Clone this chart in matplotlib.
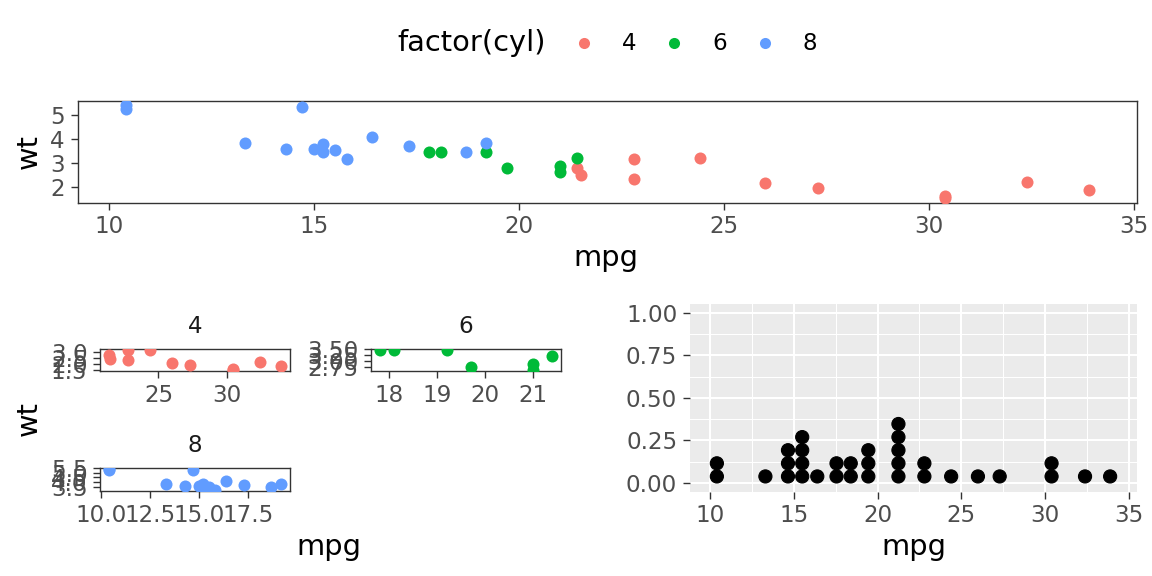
import matplotlib
matplotlib.use("Agg")
import matplotlib.pyplot as plt
from matplotlib.patches import Ellipse

# mtcars data
mpg = [21.0, 21.0, 22.8, 21.4, 18.7, 18.1, 14.3, 24.4, 22.8, 19.2, 17.8, 16.4, 17.3, 15.2,
       10.4, 10.4, 14.7, 32.4, 30.4, 33.9, 21.5, 15.5, 15.2, 13.3, 19.2, 27.3, 26.0, 30.4,
       15.8, 19.7, 15.0, 21.4]
wt = [2.620, 2.875, 2.320, 3.215, 3.440, 3.460, 3.570, 3.190, 3.150, 3.440, 3.440, 4.070,
      3.730, 3.780, 5.250, 5.424, 5.345, 2.200, 1.615, 1.835, 2.465, 3.520, 3.435, 3.840,
      3.845, 1.935, 2.140, 1.513, 3.170, 2.770, 3.570, 2.780]
cyl = [6, 6, 4, 6, 8, 6, 8, 4, 4, 6, 6, 8, 8, 8, 8, 8, 8, 4, 4, 4, 4, 8, 8, 8, 8, 4, 4, 4,
       8, 6, 8, 4]
cyl_levels = [4, 6, 8]
cyl_colors = {4: "#F8766D", 6: "#00BA38", 8: "#619CFF"}

W, H = 1152, 576
fig = plt.figure(figsize=(W / 100, H / 100), dpi=100)


def rect(l, r, t, b):
    return [l / W, 1 - b / H, (r - l) / W, (b - t) / H]


def fx(x):
    return x / W


def fy(y):
    return 1 - y / H


TICK = 16.6
TITLE = 20.8
PT = 75


def style_ticks(ax):
    ax.tick_params(direction="out", length=5.2, width=1.0, color="#333333",
                   labelcolor="#4D4D4D", labelsize=TICK, pad=4.0)


def bw_panel(ax):
    ax.set_facecolor("white")
    for s in ax.spines.values():
        s.set_color("#333333")
        s.set_linewidth(1.0)
    style_ticks(ax)


def expand(lo, hi, f=0.05):
    d = (hi - lo) * f
    return lo - d, hi + d


# ---------------- top scatter ----------------
ax = fig.add_axes(rect(77.7, 1137, 100.7, 202.7))
bw_panel(ax)
for c in cyl_levels:
    xs = [m for m, k in zip(mpg, cyl) if k == c]
    ys = [w for w, k in zip(wt, cyl) if k == c]
    ax.scatter(xs, ys, s=PT, color=cyl_colors[c], linewidths=0, zorder=3)
ax.set_xlim(*expand(min(mpg), max(mpg)))
ax.set_ylim(*expand(min(wt), max(wt)))
ax.set_xticks([10, 15, 20, 25, 30, 35])
ax.set_yticks([2, 3, 4, 5])
fig.text(fx(606), fy(258), "mpg", ha="center", va="center", fontsize=TITLE)
fig.text(fx(28.7), fy(151.7), "wt", ha="center", va="center", fontsize=TITLE, rotation=90)

# legend
fig.text(fx(397), fy(43.3), "factor(cyl)", ha="left", va="center", fontsize=TITLE)
leg_ax = fig.add_axes([0, 0, 1, 1])
leg_ax.set_xlim(0, W)
leg_ax.set_ylim(H, 0)
leg_ax.axis("off")
key_x = [584.3, 674.3, 765.0]
lab_x = [629.3, 720.0, 810.0]
for c, kx, lx in zip(cyl_levels, key_x, lab_x):
    leg_ax.scatter([kx], [43.3], s=PT * 0.85, color=cyl_colors[c], linewidths=0)
    leg_ax.text(lx, 43.3, str(c), ha="center", va="center", fontsize=TICK)

# ---------------- facets ----------------
facet_rects = {
    4: (100.3, 289.7, 348.7, 371.3),
    6: (371.2, 561.0, 348.7, 371.3),
    8: (100.3, 289.7, 467.7, 491.0),
}
facet_xticks = {4: [25, 30], 6: [18, 19, 20, 21], 8: [10.0, 12.5, 15.0, 17.5]}
facet_xlabels = {4: ["25", "30"], 6: ["18", "19", "20", "21"],
                 8: ["10.0", "12.5", "15.0", "17.5"]}
facet_yticks = {4: [1.5, 2.0, 2.5, 3.0], 6: [2.75, 3.00, 3.25, 3.50],
                8: [3.5, 4.0, 4.5, 5.0, 5.5]}
facet_ylabels = {4: ["1.5", "2.0", "2.5", "3.0"], 6: ["2.75", "3.00", "3.25", "3.50"],
                 8: ["3.5", "4.0", "4.5", "5.0", "5.5"]}
for c in cyl_levels:
    l, r, t, b = facet_rects[c]
    fa = fig.add_axes(rect(l, r, t, b))
    bw_panel(fa)
    xs = [m for m, k in zip(mpg, cyl) if k == c]
    ys = [w for w, k in zip(wt, cyl) if k == c]
    fa.scatter(xs, ys, s=PT, color=cyl_colors[c], linewidths=0, zorder=3, clip_on=True)
    fa.set_xlim(*expand(min(xs), max(xs)))
    fa.set_ylim(*expand(min(ys), max(ys)))
    fa.set_xticks(facet_xticks[c])
    fa.set_xticklabels(facet_xlabels[c])
    fa.set_yticks(facet_yticks[c])
    fa.set_yticklabels(facet_ylabels[c])
    fig.text(fx((l + r) / 2), fy(t - 22), str(c), ha="center", va="center",
             fontsize=TICK, color="#1A1A1A")
fig.text(fx(329), fy(546.7), "mpg", ha="center", va="center", fontsize=TITLE)
fig.text(fx(28.7), fy(418), "wt", ha="center", va="center", fontsize=TITLE, rotation=90)

# ---------------- dotplot ----------------
dl, dr, dt, db = 690.0, 1137.0, 304.3, 491.5
da = fig.add_axes(rect(dl, dr, dt, db))
da.set_facecolor("#EBEBEB")
for s in da.spines.values():
    s.set_visible(False)
style_ticks(da)
da.set_axisbelow(True)
binwidth = (max(mpg) - min(mpg)) / 30
vals = sorted(mpg)
centers, counts = [], []
i = 0
while i < len(vals):
    start = vals[i]
    j = i
    while j < len(vals) and vals[j] < start + binwidth:
        j += 1
    grp = vals[i:j]
    centers.append((grp[0] + grp[-1]) / 2)
    counts.append(len(grp))
    i = j
xlo, xhi = expand(min(centers) - binwidth / 2, max(centers) + binwidth / 2)
ylo, yhi = -0.05, 1.05
da.set_xlim(xlo, xhi)
da.set_ylim(ylo, yhi)
pxx = (dr - dl) / (xhi - xlo)
pxy = (db - dt) / (yhi - ylo)
dot_h = binwidth * pxx / pxy
for cx, n in zip(centers, counts):
    for k in range(n):
        da.add_patch(Ellipse((cx, (k + 0.5) * dot_h), binwidth, dot_h,
                             facecolor="black", edgecolor="black", linewidth=0.8, zorder=3))
da.set_xticks([10, 15, 20, 25, 30, 35])
da.set_yticks([0, 0.25, 0.5, 0.75, 1.0])
da.set_yticklabels(["0.00", "0.25", "0.50", "0.75", "1.00"])
da.set_xticks([12.5, 17.5, 22.5, 27.5, 32.5], minor=True)
da.set_yticks([0.125, 0.375, 0.625, 0.875], minor=True)
da.tick_params(which="minor", length=0)
da.grid(which="major", color="white", linewidth=1.5)
da.grid(which="minor", color="white", linewidth=0.75)
fig.text(fx((dl + dr) / 2), fy(546.7), "mpg", ha="center", va="center", fontsize=TITLE)

fig.savefig("out.png", dpi=100)
